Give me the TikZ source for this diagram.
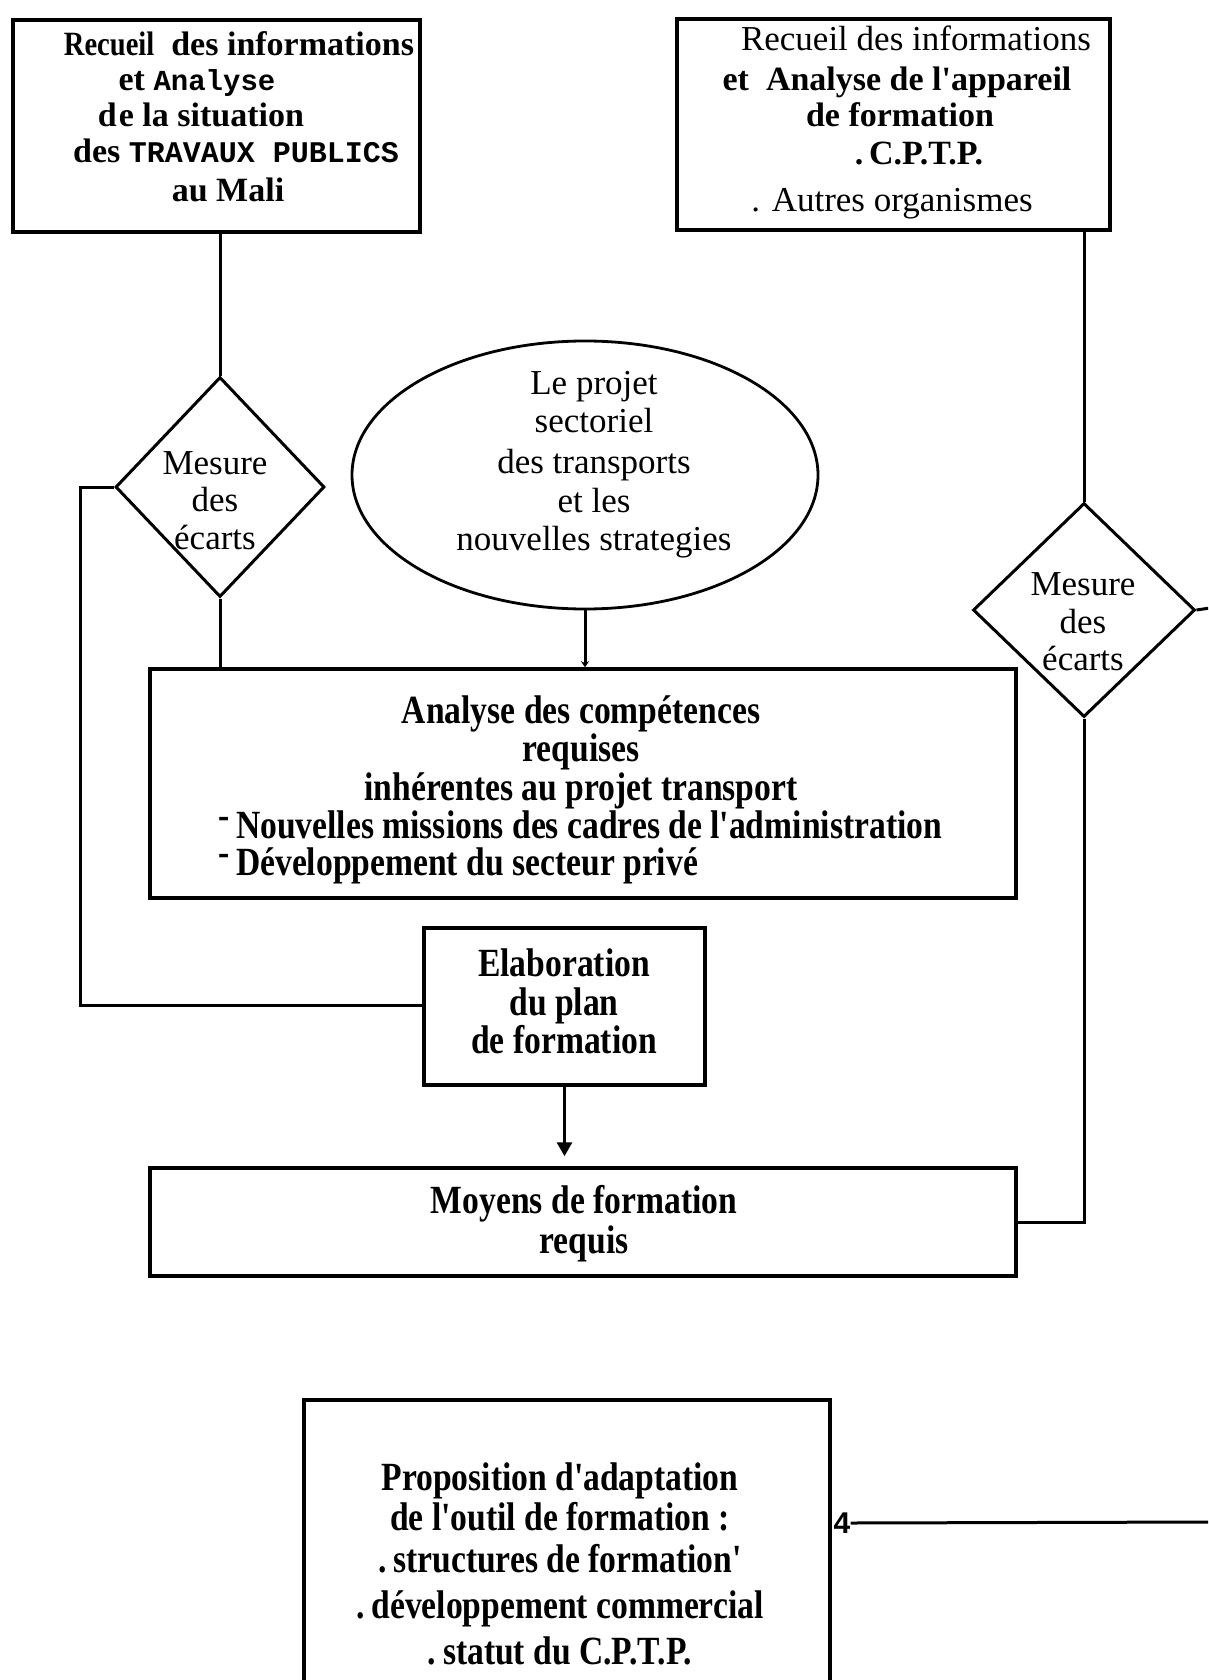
\documentclass[tikz,border=0pt]{standalone}
\usepackage{fontspec}
\setmainfont{Liberation Serif}
\newfontfamily\txtfont{Liberation Serif}
\newfontfamily\condfont{Liberation Serif}[FakeStretch=0.84]
\newfontfamily\slabfont{Liberation Mono}
\newfontfamily\tipfont{Liberation Sans}
\usetikzlibrary{shapes.geometric,arrows.meta}
\begin{document}
\begin{tikzpicture}[x=1pt,y=-1pt,
  box/.style={draw, rectangle, line width=3.5pt, inner sep=0pt},
  dia/.style={draw, diamond, line width=3pt, inner sep=0pt},
  oval/.style={draw, ellipse, line width=2.8pt, inner sep=0pt},
  conn/.style={line width=3pt},
  reg/.style={anchor=base, inner sep=0pt, font=\txtfont\fontsize{35}{38}\selectfont},
  bld/.style={anchor=base, inner sep=0pt, font=\txtfont\fontsize{34}{37}\selectfont\bfseries},
  cnd/.style={anchor=base, inner sep=0pt, font=\condfont\bfseries\fontsize{40}{40}\selectfont},
]
\useasboundingbox (0,0) rectangle (1208,1680);
\clip (0,0) rectangle (1208,1680);
\fill[white] (0,0) rectangle (1208,1680);

% ---- top left box: situation of public works
\node[box, minimum width=407pt, minimum height=212pt] (b1) at (216.5,126) {};
\node[bld] (b1a) at (239,56) {{\condfont Recueil}\ \ des informations};
\node[bld] (b1b) at (197,91) {et {\slabfont\fontsize{29}{34}\selectfont Analyse}};
\node[bld] (b1c) at (201,127) {d\kern2pt e la situation};
\node[bld] (b1d) at (236,163) {des {\slabfont\fontsize{30}{34}\selectfont TRAVAUX PUBLICS}};
\node[bld] (b1e) at (228,202) {au Mali};

% ---- top right box: training system
\node[box, minimum width=433pt, minimum height=211pt] (b2) at (893.5,124.5) {};
\node[reg] (b2a) at (916,51) {Recueil des informations};
\node[bld] (b2b) at (897,91) {et\ \ Analyse de l'appareil};
\node[bld] (b2c) at (900,127) {de formation};
\node[bld] (b2d) at (919,165) {.\,C.P.T.P.};
\node[reg] (b2e) at (892,212) {. Autres organismes};

% ---- left diamond
\node[dia, minimum width=209pt, minimum height=220pt] (d1) at (220,487) {};
\node[reg] (d1a) at (215,474) {Mesure};
\node[reg] (d1b) at (215,511) {des};
\node[reg] (d1c) at (215,549) {écarts};

% ---- ellipse: sector project
\node[oval, minimum width=466pt, minimum height=268pt] (ell) at (585,475) {};
\node[reg] (e1) at (594,394) {Le projet};
\node[reg] (e2) at (594,432) {sectoriel};
\node[reg] (e3) at (594,473) {des transports};
\node[reg] (e4) at (594,512) {et les};
\node[reg] (e5) at (594,550) {nouvelles strategies};

% ---- right diamond
\node[dia, minimum width=222pt, minimum height=214pt] (d2) at (1084,610) {};
\node[reg] (d2a) at (1083,595) {Mesure};
\node[reg] (d2b) at (1083,633) {des};
\node[reg] (d2c) at (1083,670) {écarts};

% ---- competence analysis
\node[box, minimum width=866pt, minimum height=229pt] (ana) at (583,783.5) {};
\node[cnd] (ana1) at (581,723) {Analyse des compétences};
\node[cnd] (ana2) at (581,761) {requises};
\node[cnd] (ana3) at (581,800) {inhérentes au projet transport};
\node[cnd, anchor=base west] (ana4) at (218,838) {\raisebox{10pt}{-}\,Nouvelles missions des cadres de l'administration};
\node[cnd, anchor=base west] (ana5) at (218,875) {\raisebox{10pt}{-}\,Développement du secteur privé};

% ---- training plan
\node[box, minimum width=281pt, minimum height=157pt] (elab) at (564.5,1006.5) {};
\node[cnd] (el1) at (564,976) {Elaboration};
\node[cnd] (el2) at (564,1015) {du plan};
\node[cnd] (el3) at (564,1053) {de formation};

% ---- training means
\node[box, minimum width=866pt, minimum height=108pt] (moy) at (583,1222) {};
\node[cnd] (mo1) at (584,1213) {Moyens de formation};
\node[cnd] (mo2) at (584,1253) {requis};

% ---- adaptation proposal (runs past the lower edge)
\node[box, minimum width=526pt, minimum height=330pt] (prop) at (567,1565) {};
\node[cnd] (pr1) at (560,1490) {Proposition d'adaptation};
\node[cnd] (pr2) at (560,1530) {de l'outil de formation :};
\node[cnd] (pr3) at (560,1572) {.\,structures de formation'};
\node[cnd] (pr4) at (560,1618) {.\,développement commercial};
\node[cnd] (pr5) at (560,1664) {.\,statut du C.P.T.P.};
\node[inner sep=0pt, font=\tipfont\bfseries\fontsize{30}{30}\selectfont] (four) at (842,1523) {4};

% ---- connectors
\coordinate (lb) at (80,1005);
\coordinate (redge) at (1210,608);
\coordinate (pedge) at (1210,1522);

\draw[conn] (d1.north |- b1.south) -- (d1.north);
\draw[conn] (d1.south) -- (d1.south |- ana.north);
\draw[conn] (d1.west) -| (lb) -- (lb -| elab.west);
\draw[conn, -{Stealth[length=6pt,width=8pt]}] (ell.south) -- (ell.south |- ana.north);
\draw[conn] (d2.north |- b2.south) -- (d2.north);
\draw[conn] (d2.east) -- (redge);
\draw[conn] (d2.south) |- (moy.east);
\draw[conn, -{Triangle[length=14pt,width=15pt]}, shorten >=10pt] (elab.south) -- (elab.south |- moy.north);
\draw[conn] (pedge) -- (four.east);
\end{tikzpicture}
\end{document}
